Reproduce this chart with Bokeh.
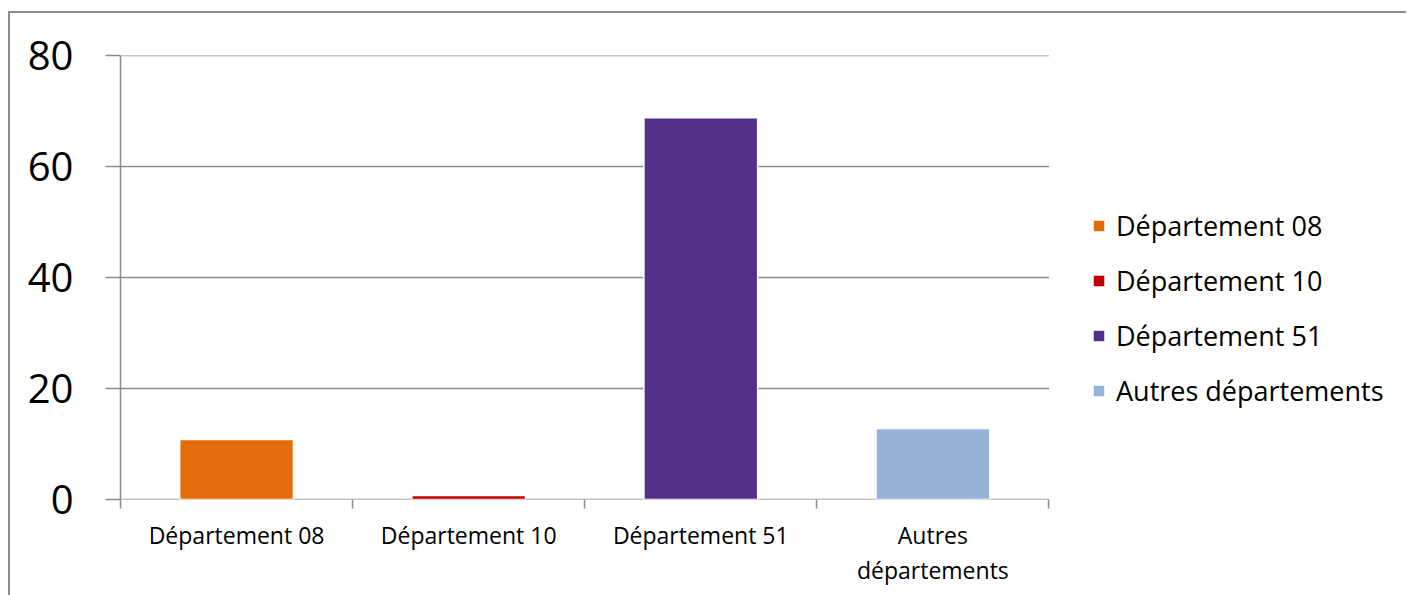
from bokeh.plotting import figure
from bokeh.models import ColumnDataSource, FixedTicker, Legend, LegendItem
from bokeh.embed import file_html
from bokeh.resources import INLINE

categories = ["Département 08", "Département 10", "Département 51", "Autres départements"]
tick_labels = ["Département 08", "Département 10", "Département 51", "Autres\ndépartements"]
values = [10.8, 0.7, 68.8, 12.8]
colors = ["#E46C0A", "#C00000", "#53318B", "#95B3D7"]
y_ticks = [0, 20, 40, 60, 80]

FONT = "Open Sans"
GRID = "#8c8c8c"

n = len(categories)
xs = [i + 0.5 for i in range(n)]
src = ColumnDataSource(dict(x=xs, top=values, color=colors, cat=categories))

# frame spans to the right edge so the legend can sit inside it;
# the category area occupies x in [0, n]
CAT_PX = 231.75
FRAME_PX = 1286
p = figure(width=1398, height=584, output_backend="svg", toolbar_location=None,
           x_range=(0, FRAME_PX / CAT_PX), y_range=(0, 80),
           min_border_left=110, min_border_right=0, min_border_top=42, min_border_bottom=98)
p.margin = (11, 0, 0, 8)
p.outline_line_color = None
p.background_fill_color = "white"
p.border_fill_color = "white"
p.styles = {"border-top": "2px solid #8c8c8c", "border-left": "2px solid #8c8c8c",
            "box-sizing": "border-box"}

# horizontal gridlines, limited to the category area
grid_src = ColumnDataSource(dict(y=y_ticks, x0=[0] * len(y_ticks), x1=[n] * len(y_ticks)))
p.segment(x0="x0", x1="x1", y0="y", y1="y", line_color=GRID, line_width=1.5, source=grid_src)

r = p.vbar(x="x", top="top", width=0.49, bottom=0, fill_color="color",
           line_color="white", line_width=1.5, source=src)

# y axis
p.yaxis.ticker = FixedTicker(ticks=y_ticks)
p.yaxis.major_tick_in = 0
p.yaxis.major_tick_out = 15
p.yaxis.minor_tick_line_color = None
p.yaxis.axis_line_color = GRID
p.yaxis.axis_line_width = 1.5
p.yaxis.major_tick_line_color = GRID
p.yaxis.major_tick_line_width = 1.5
p.yaxis.major_label_text_font = FONT
p.yaxis.major_label_text_font_size = "40px"
p.yaxis.major_label_text_color = "#000000"
p.yaxis.major_label_standoff = 32

# x axis: labels at centers, tick marks between categories
p.xaxis.ticker = FixedTicker(ticks=xs, minor_ticks=list(range(n + 1)))
p.xaxis.major_label_overrides = {x: t for x, t in zip(xs, tick_labels)}
p.xaxis.major_tick_in = 0
p.xaxis.major_tick_out = 0
p.xaxis.minor_tick_in = 0
p.xaxis.minor_tick_out = 9
p.xaxis.minor_tick_line_color = GRID
p.xaxis.minor_tick_line_width = 1.5
p.xaxis.axis_line_color = None
p.xaxis.major_label_text_font = FONT
p.xaxis.major_label_text_font_size = "23px"
p.xaxis.major_label_text_color = "#000000"
p.xaxis.major_label_text_line_height = 1.1
p.xaxis.major_label_standoff = 10

p.xgrid.grid_line_color = None
p.ygrid.grid_line_color = None

items = [LegendItem(label=c, renderers=[r], index=i) for i, c in enumerate(categories)]
legend = Legend(items=items, location=(971, 90), orientation="vertical",
                label_text_font=FONT, label_text_font_size="27px", label_text_color="#000000",
                glyph_width=15, glyph_height=15, label_standoff=10, label_height=30,
                spacing=18, padding=0, margin=0, border_line_color=None,
                background_fill_alpha=0)
p.add_layout(legend)

open("out.html", "w").write(file_html(p, INLINE))
